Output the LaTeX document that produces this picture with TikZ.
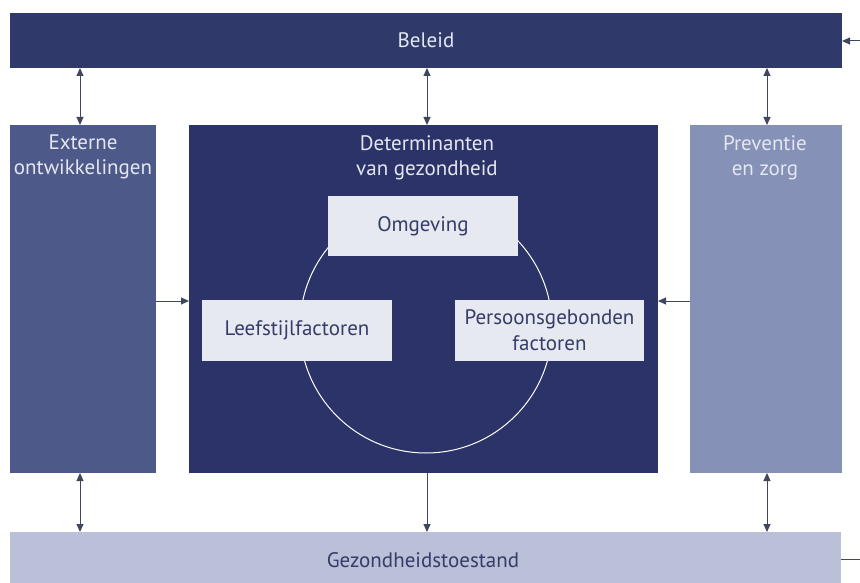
\documentclass[tikz,border=0pt]{standalone}
\usepackage{fontspec}
\setmainfont{PT Sans}
\usetikzlibrary{arrows.meta}
\definecolor{beleid}{HTML}{303A6A}
\definecolor{detbg}{HTML}{2C3368}
\definecolor{extbg}{HTML}{4D5A89}
\definecolor{prevbg}{HTML}{8591B6}
\definecolor{gezbg}{HTML}{B9C0D7}
\definecolor{boxbg}{HTML}{E7E9F1}
\definecolor{darktxt}{HTML}{353C68}
\definecolor{lightxt}{HTML}{E4E7F1}
\definecolor{conn}{HTML}{41465F}
\tikzset{
  factor/.style={fill=boxbg, text=darktxt, inner sep=0pt, outer sep=0pt, align=center, font=\fontsize{21}{26}\selectfont},
  head/.style={text=lightxt, align=center, font=\fontsize{21}{25}\selectfont, inner sep=0pt},
  con/.style={draw=conn, line width=1pt, -{Triangle[length=8pt,width=7pt]}},
  dcon/.style={draw=conn, line width=1pt, {Triangle[length=8pt,width=7pt]}-{Triangle[length=8pt,width=7pt]}},
}
\begin{document}
\begin{tikzpicture}[x=1pt,y=-1pt]
\useasboundingbox (0,0) rectangle (860,583);
\fill[white] (0,0) rectangle (860,583);
% panels
\path[fill=beleid] (10,13) rectangle (842,68);
\node[inner sep=0pt, outer sep=0pt, minimum width=832pt, minimum height=55pt] (bel) at (426,40.5) {};
\node[head] at (426,40) {Beleid};
\path[fill=extbg] (10,125) rectangle (156,473);
\node[inner sep=0pt, outer sep=0pt, minimum width=146pt, minimum height=348pt] (ext) at (83,299) {};
\path[fill=detbg] (189,125) rectangle (658,473);
\node[inner sep=0pt, outer sep=0pt, minimum width=469pt, minimum height=348pt] (det) at (423.5,299) {};
\path[fill=prevbg] (690,125) rectangle (842,473);
\node[inner sep=0pt, outer sep=0pt, minimum width=152pt, minimum height=348pt] (prev) at (766,299) {};
\path[fill=gezbg] (10,532) rectangle (841,583);
\node[inner sep=0pt, outer sep=0pt, minimum width=831pt, minimum height=51pt] (gez) at (425.5,557.5) {};
\node[text=darktxt, font=\fontsize{21}{25}\selectfont, inner sep=0pt] at (423,560) {Gezondheidstoestand};
% headings
\node[head, anchor=north] at (83,135) {Externe\\ontwikkelingen};
\node[head, anchor=north] at (427,135) {Determinanten\\van gezondheid};
\node[head, anchor=north] at (765,135) {Preventie\\en zorg};
% circle
\draw[white, line width=1pt] (426,327) circle[radius=126];
% factor boxes
\node[factor, minimum width=190pt, minimum height=60pt] (omg) at (423,226) {Omgeving};
\node[factor, minimum width=190pt, minimum height=61pt] (leef) at (297,330.5) {Leefstijlfactoren};
\node[factor, minimum width=189pt, minimum height=61pt] (pers) at (549.5,330.5) {Persoonsgebonden\\factoren};
% connectors
\draw[dcon] (bel.south -| 80,0) -- (ext.north -| 80,0);
\draw[dcon] (bel.south -| 427,0) -- (det.north -| 427,0);
\draw[dcon] (bel.south -| 767,0) -- (prev.north -| 767,0);
\draw[dcon] (ext.south -| 80,0) -- (gez.north -| 80,0);
\draw[con] (det.south -| 427,0) -- (gez.north -| 427,0);
\draw[dcon] (prev.south -| 767,0) -- (gez.north -| 767,0);
\draw[con] (ext.east |- 0,301) -- (det.west |- 0,301);
\draw[con] (prev.west |- 0,301) -- (det.east |- 0,301);
\coordinate (inR) at (860,41);
\coordinate (outR) at (860,559);
\draw[con] (inR) -- (bel.east |- inR);
\draw[draw=conn, line width=1pt] (gez.east |- outR) -- (outR);
\end{tikzpicture}
\end{document}
